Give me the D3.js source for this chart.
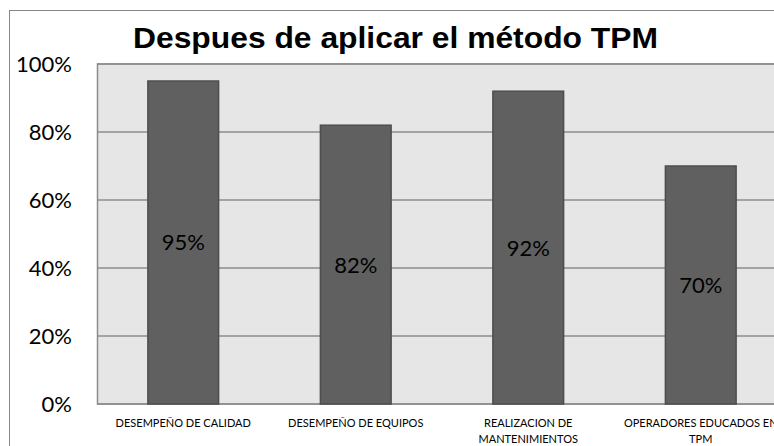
<!DOCTYPE html>
<html>
<head>
<meta charset="utf-8">
<script src="https://cdn.jsdelivr.net/npm/d3@7"></script>
<style>
html,body{margin:0;padding:0;background:#fff;overflow:hidden;}
svg{display:block;}
</style>
</head>
<body>
<svg id="chart" width="774" height="446"></svg>
<script>
const title = "Despues de aplicar el método TPM";
const categories = [
  ["DESEMPEÑO DE CALIDAD"],
  ["DESEMPEÑO DE EQUIPOS"],
  ["REALIZACION DE", "MANTENIMIENTOS"],
  ["OPERADORES EDUCADOS EN", "TPM"]
];
const values = [0.95, 0.82, 0.92, 0.70];
const yTicks = [0, 0.2, 0.4, 0.6, 0.8, 1.0];

const svg = d3.select("#chart");
const plot = {left: 97, top: 64, right: 787, bottom: 404};

// outer frame (clipped on right/bottom like the reference)
svg.append("rect").attr("x", 9.5).attr("y", 10.5).attr("width", 800).attr("height", 500)
  .attr("fill", "#fff").attr("stroke", "#868686").attr("stroke-width", 1);

const x = d3.scaleBand().domain(d3.range(categories.length))
  .range([plot.left, plot.right]).paddingInner(0.59).paddingOuter(0.295);
const y = d3.scaleLinear().domain([0, 1]).range([plot.bottom, plot.top]);

// plot area background
svg.append("rect").attr("x", plot.left + 0.5).attr("y", plot.top)
  .attr("width", plot.right - plot.left).attr("height", plot.bottom - plot.top)
  .attr("fill", "#e6e6e6").attr("stroke", "#8c8c8c").attr("stroke-width", 1.5);

// gridlines
svg.append("g").selectAll("line").data(yTicks).join("line")
  .attr("x1", plot.left).attr("x2", plot.right)
  .attr("y1", d => y(d)).attr("y2", d => y(d))
  .attr("stroke", "#8c8c8c").attr("stroke-width", 1.5);

// y axis labels
const yAxis = d3.axisLeft(y).tickValues(yTicks).tickFormat(d3.format(".0%")).tickSize(0).tickPadding(0);
const ya = svg.append("g").attr("transform", `translate(72,0)`).call(yAxis);
ya.select(".domain").remove();
ya.selectAll("text").attr("font-family", "Lato, 'Open Sans', sans-serif").attr("font-size", 22)
  .attr("fill", "#000").attr("dy", "0.34em");

// bars
svg.append("g").selectAll("rect").data(values).join("rect")
  .attr("x", (d, i) => x(i)).attr("width", x.bandwidth())
  .attr("y", d => y(d)).attr("height", d => y(0) - y(d))
  .attr("fill", "#606060").attr("stroke", "#4e4e4e").attr("stroke-width", 1.5);

// value labels
svg.append("g").selectAll("text").data(values).join("text")
  .attr("x", (d, i) => x(i) + x.bandwidth() / 2)
  .attr("y", d => (y(d) + y(0)) / 2)
  .attr("dy", "0.36em")
  .attr("text-anchor", "middle")
  .attr("font-family", "Lato, 'Open Sans', sans-serif").attr("font-size", 22)
  .attr("fill", "#000")
  .text(d => d3.format(".0%")(d));

// category labels
const cg = svg.append("g").selectAll("text").data(categories).join("text")
  .attr("x", (d, i) => x(i) + x.bandwidth() / 2)
  .attr("y", 427)
  .attr("text-anchor", "middle")
  .attr("font-family", "Lato, 'Open Sans', sans-serif").attr("font-size", 11)
  .attr("fill", "#000");
cg.selectAll("tspan").data(d => d).join("tspan")
  .attr("x", function() { return d3.select(this.parentNode).attr("x"); })
  .attr("dy", (d, i) => i === 0 ? 0 : 16)
  .text(d => d);

// title
svg.append("text").attr("x", 133).attr("y", 48)
  .attr("font-family", "'Liberation Sans', Arial, sans-serif").attr("font-weight", "bold")
  .attr("font-size", 29.5).attr("fill", "#000")
  .attr("textLength", 525).attr("lengthAdjust", "spacingAndGlyphs")
  .text(title);
</script>
</body>
</html>
